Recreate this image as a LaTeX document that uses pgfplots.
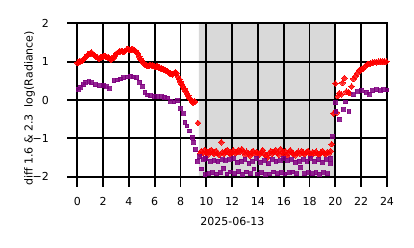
\documentclass[border=0pt]{standalone}
\usepackage{pgfplots}
\usepackage{pgfplotstable}
\pgfplotsset{compat=1.18}
\usepackage{fontspec}
\setmainfont{DejaVu Sans}
\definecolor{myred}{HTML}{FF0000}
\definecolor{mypurple}{HTML}{800080}
\pgfplotstableread{
x y
0.0 0.97
0.1 0.98
0.2 1.00
0.3 1.02
0.4 1.03
0.5 1.06
0.6 1.10
0.7 1.14
0.8 1.18
0.9 1.20
1.0 1.22
1.1 1.24
1.2 1.20
1.3 1.17
1.4 1.14
1.5 1.12
1.6 1.10
1.7 1.08
1.8 1.10
1.9 1.12
2.0 1.14
2.1 1.15
2.2 1.13
2.3 1.12
2.4 1.10
2.5 1.08
2.6 1.06
2.7 1.07
2.8 1.10
2.9 1.15
3.0 1.20
3.1 1.23
3.2 1.25
3.3 1.27
3.4 1.28
3.5 1.27
3.6 1.25
3.7 1.28
3.8 1.31
3.9 1.33
4.0 1.32
4.1 1.30
4.2 1.31
4.3 1.33
4.4 1.30
4.5 1.28
4.6 1.25
4.7 1.20
4.8 1.13
4.9 1.07
5.0 1.02
5.1 0.98
5.2 0.94
5.3 0.91
5.4 0.90
5.5 0.89
5.6 0.90
5.7 0.91
5.8 0.90
5.9 0.89
6.0 0.88
6.1 0.87
6.2 0.87
6.3 0.85
6.4 0.84
6.5 0.82
6.6 0.81
6.7 0.80
6.8 0.78
6.9 0.76
7.0 0.74
7.1 0.71
7.2 0.69
7.3 0.68
7.4 0.67
7.5 0.70
7.6 0.72
7.7 0.70
7.8 0.60
7.9 0.54
8.0 0.47
8.1 0.41
8.2 0.35
8.3 0.29
8.4 0.23
8.5 0.17
8.6 0.11
8.7 0.05
8.8 0.00
8.9 -0.05
9.0 -0.07
9.1 -0.04
9.35 -0.60
9.50 -1.40
9.62 -1.33
9.75 -1.38
9.88 -1.30
10.00 -1.36
10.12 -1.42
10.25 -1.35
10.38 -1.30
10.50 -1.37
10.62 -1.40
10.75 -1.33
10.88 -1.38
11.00 -1.43
11.15 -1.10
11.25 -1.36
11.38 -1.40
11.50 -1.35
11.62 -1.30
11.75 -1.38
11.88 -1.42
12.00 -1.35
12.12 -1.32
12.25 -1.39
12.38 -1.36
12.50 -1.30
12.62 -1.34
12.75 -1.28
12.88 -1.36
13.00 -1.42
13.12 -1.35
13.25 -1.39
13.38 -1.45
13.50 -1.37
13.62 -1.33
13.75 -1.40
13.88 -1.36
14.00 -1.38
14.12 -1.42
14.25 -1.35
14.38 -1.31
14.50 -1.40
14.62 -1.45
14.75 -1.50
14.88 -1.38
15.00 -1.33
15.12 -1.40
15.25 -1.35
15.38 -1.30
15.50 -1.37
15.62 -1.42
15.75 -1.28
15.88 -1.36
16.00 -1.40
16.12 -1.34
16.25 -1.45
16.38 -1.38
16.50 -1.31
16.62 -1.36
16.75 -1.40
16.88 -1.44
17.00 -1.38
17.12 -1.35
17.25 -1.40
17.38 -1.33
17.50 -1.37
17.62 -1.41
17.75 -1.36
17.88 -1.33
18.00 -1.40
18.12 -1.44
18.25 -1.36
18.38 -1.38
18.50 -1.35
18.62 -1.40
18.75 -1.42
18.88 -1.37
19.00 -1.33
19.12 -1.38
19.25 -1.41
19.38 -1.36
19.50 -1.39
19.62 -1.33
19.72 -1.15
19.85 -0.35
20.00 0.43
20.10 -0.33
20.20 0.10
20.30 0.18
20.45 0.15
20.55 0.45
20.70 0.57
20.85 0.22
21.00 0.20
21.10 0.18
21.25 0.35
21.40 0.55
21.55 0.62
21.70 0.70
21.85 0.78
22.00 0.80
22.15 0.82
22.30 0.88
22.45 0.92
22.60 0.94
22.75 0.96
22.90 0.98
23.05 0.99
23.20 0.98
23.35 1.00
23.50 1.00
23.65 1.01
23.80 1.00
23.95 1.00
}\redtable
\pgfplotstableread{
x y
0.10 0.28
0.25 0.33
0.45 0.40
0.65 0.46
0.90 0.48
1.10 0.45
1.40 0.40
1.70 0.37
2.00 0.38
2.25 0.35
2.50 0.30
2.85 0.50
3.10 0.52
3.35 0.55
3.60 0.58
3.90 0.60
4.10 0.62
4.35 0.60
4.60 0.58
4.85 0.46
5.05 0.36
5.25 0.20
5.45 0.13
5.70 0.11
6.00 0.10
6.25 0.09
6.50 0.09
6.75 0.07
7.00 0.05
7.25 -0.03
7.50 -0.05
7.75 -0.02
8.00 -0.22
8.20 -0.35
8.35 -0.58
8.50 -0.68
8.70 -0.81
8.90 -0.97
9.00 -1.10
9.15 -1.30
9.30 -1.60
9.50 -1.48
9.65 -1.80
9.75 -1.55
9.95 -1.52
10.30 -1.60
10.60 -1.58
10.90 -1.60
11.25 -1.55
11.50 -1.58
11.80 -1.55
12.10 -1.53
12.40 -1.62
12.70 -1.60
13.00 -1.55
13.30 -1.65
13.60 -1.60
13.90 -1.52
14.20 -1.62
14.50 -1.58
14.80 -1.66
15.10 -1.55
15.40 -1.60
15.75 -1.58
16.00 -1.52
16.30 -1.58
16.60 -1.55
16.90 -1.62
17.20 -1.60
17.50 -1.55
17.80 -1.60
18.05 -1.52
18.40 -1.60
18.70 -1.56
19.00 -1.62
19.30 -1.55
19.60 -1.52
19.65 -1.65
9.90 -1.95
10.20 -1.92
10.50 -1.90
10.80 -1.93
11.10 -1.90
11.35 -1.78
11.60 -1.93
11.90 -1.88
12.20 -1.92
12.50 -1.87
12.80 -1.94
13.10 -1.88
13.40 -1.92
13.70 -1.80
13.95 -1.93
14.30 -1.90
14.60 -1.94
14.90 -1.93
15.20 -1.88
15.50 -1.92
15.80 -1.90
16.10 -1.93
16.45 -1.89
16.70 -1.88
17.00 -1.92
17.30 -1.75
17.60 -1.92
17.90 -1.89
18.20 -1.92
18.50 -1.90
18.80 -1.94
19.10 -1.89
19.40 -1.92
19.78 -0.95
20.00 -0.07
20.05 -0.30
20.30 -0.50
20.60 -0.25
20.80 -0.05
21.05 -0.30
21.40 0.14
21.70 0.22
22.00 0.25
22.40 0.20
22.65 0.15
22.90 0.24
23.20 0.27
23.50 0.25
23.75 0.27
24.00 0.26
}\purpletable
\begin{document}
\begin{tikzpicture}
\path[use as bounding box] (0,0) rectangle (414bp,248bp);
\begin{axis}[
  at={(77.3bp,71.3bp)}, anchor=south west,
  scale only axis, width=309.7bp, height=153.4bp,
  xmin=0, xmax=24, ymin=-2, ymax=2,
  xtick={0,2,...,24}, ytick={-2,-1,0,1,2},
  yticklabels={−2,−1,0,1,2},
  tick pos=left,
  grid=major,
  major grid style={black, line width=1.8bp},
  axis line style={black, line width=1.8bp},
  tick align=outside, major tick length=10bp,
  tick style={black, line width=1.8bp},
  ticklabel style={font=\fontsize{11bp}{13bp}\selectfont},
  xticklabel shift=7bp, yticklabel shift=15bp,
  /pgf/number format/assume math mode=true,
  xlabel={2025-06-13},
  ylabel={diff 1.6 \& 2.3\ \ log(Radiance)},
  label style={font=\fontsize{11bp}{13bp}\selectfont},
  x label style={at={(axis description cs:0.501,-0.293)}, anchor=center},
  y label style={at={(axis description cs:-0.154,0.445)}, anchor=center},
]
\addplot[fill=black, fill opacity=0.15, draw=none] coordinates {(9.43,-2) (9.43,2) (19.95,2) (19.95,-2) (9.43,-2)};
\addplot[only marks, color=myred, mark=square*, mark size=2bp, mark options={rotate=45, draw=myred, fill=myred, line width=0pt, opacity=0.85}] table[x=x,y=y] {\redtable};
\addplot[only marks, color=mypurple, mark=square*, mark size=1.9bp, mark options={draw=mypurple, fill=mypurple, line width=0pt, opacity=0.85}] table[x=x,y=y] {\purpletable};
\end{axis}
\end{tikzpicture}
\end{document}
